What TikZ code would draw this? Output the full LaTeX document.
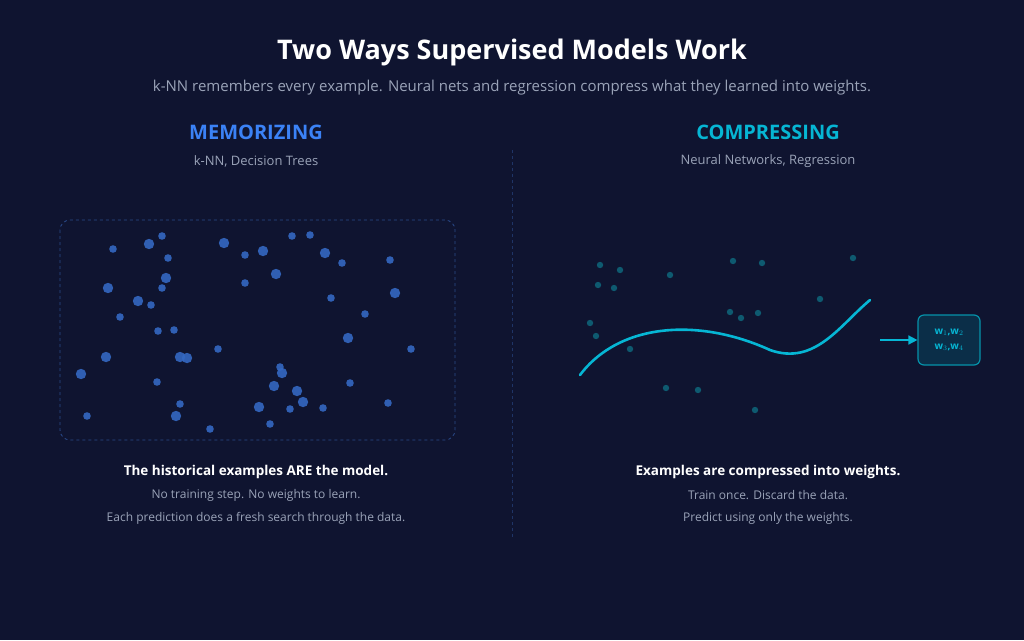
\documentclass[tikz,border=0pt]{standalone}
\usepackage{fontspec}
\setmainfont{Open Sans}
\usetikzlibrary{positioning,arrows.meta}

\definecolor{bgdark}{HTML}{0F1430}
\definecolor{memblue}{HTML}{3B82F6}
\definecolor{dotblue}{HTML}{3468C2}
\definecolor{comteal}{HTML}{06B6D4}
\definecolor{dotteal}{HTML}{0E5A70}
\definecolor{subgray}{HTML}{9AA3B8}
\definecolor{boxline}{HTML}{2A4A8A}
\definecolor{wfill}{HTML}{0B2E48}

\tikzset{
	heading/.style={font=\bfseries\fontsize{20}{24}\selectfont},
	tagline/.style={text=subgray, font=\fontsize{13}{16}\selectfont},
	lead/.style={text=white, font=\bfseries\fontsize{13.5}{16}\selectfont},
	note/.style={text=subgray, font=\fontsize{12}{15}\selectfont},
}

\begin{document}
\begin{tikzpicture}[x=1pt,y=-1pt]
	\fill[bgdark] (0,0) rectangle (1024,640);
	\useasboundingbox (0,0) rectangle (1024,640);

	% title
	\node[text=white, font=\bfseries\fontsize{27}{32}\selectfont] (title) at (512,52) {Two Ways Supervised Models Work};
	\node[text=subgray, font=\fontsize{15}{18}\selectfont] (subtitle) at (512,88) {k-NN remembers every example. Neural nets and regression compress what they learned into weights.};

	% divider
	\draw[dashed, color=boxline!60!bgdark, thick] (512,150) -- (512,538);

	% left column
	\node[heading, text=memblue] (memhead) at (256,132) {MEMORIZING};
	\node[tagline] (memsub) at (256,161) {k-NN, Decision Trees};
	\draw[boxline, dashed, thick, rounded corners=10] (60,220) rectangle (455,440);
	\foreach \x/\y in {113/249,162/236,168/258,162/288,151/305,120/317,158/331,174/330,
		157/382,180/404,87/416,210/429,218/349,245/255,245/283,292/236,310/235,342/263,
		390/260,331/298,365/314,411/349,280/367,350/383,388/403,290/409,323/408,270/424}
		\fill[dotblue, opacity=0.9] (\x,\y) circle (3.8);
	\foreach \x/\y in {149/244,166/278,108/288,138/301,106/357,180/357,187/358,81/374,
		176/416,224/243,263/251,276/274,325/253,395/293,348/338,282/373,274/386,297/391,
		303/402,259/407}
		\fill[dotblue, opacity=0.9] (\x,\y) circle (5.2);
	\node[lead] (memlead) at (256,472) {The historical examples ARE the model.};
	\node[note] (memnote1) at (256,495) {No training step. No weights to learn.};
	\node[note] (memnote2) at (256,518) {Each prediction does a fresh search through the data.};

	% right column
	\node[heading, text=comteal] (comhead) at (768,132) {COMPRESSING};
	\node[tagline] (comsub) at (768,161) {Neural Networks, Regression};
	\foreach \x/\y in {600/265,620/270,598/285,614/288,670/275,733/261,762/263,853/258,
		820/299,730/312,741/318,758/313,590/323,596/336,630/349,666/388,698/390,755/410}
		\fill[dotteal] (\x,\y) circle (3.2);
	\draw[comteal, line width=2.6pt, line cap=round] (580,375)
		.. controls (620,322) and (700,318) .. (770,350)
		.. controls (815,366) and (840,325) .. (870,300);
	\node[draw=comteal!80!black, fill=wfill, line width=1.2pt, rounded corners=6,
		minimum width=62, minimum height=50, text=comteal, align=center,
		font=\bfseries\fontsize{10}{15}\selectfont] (weights) at (949,340)
		{w$_1$,w$_2$\\w$_3$,w$_4$};
	\coordinate (arrowtail) at (880,340);
	\draw[comteal, line width=1.6pt, -{Triangle[length=9,width=9]}] (arrowtail) -- (weights.west);
	\node[lead] (comlead) at (768,472) {Examples are compressed into weights.};
	\node[note] (comnote1) at (768,495) {Train once. Discard the data.};
	\node[note] (comnote2) at (768,518) {Predict using only the weights.};
\end{tikzpicture}
\end{document}
